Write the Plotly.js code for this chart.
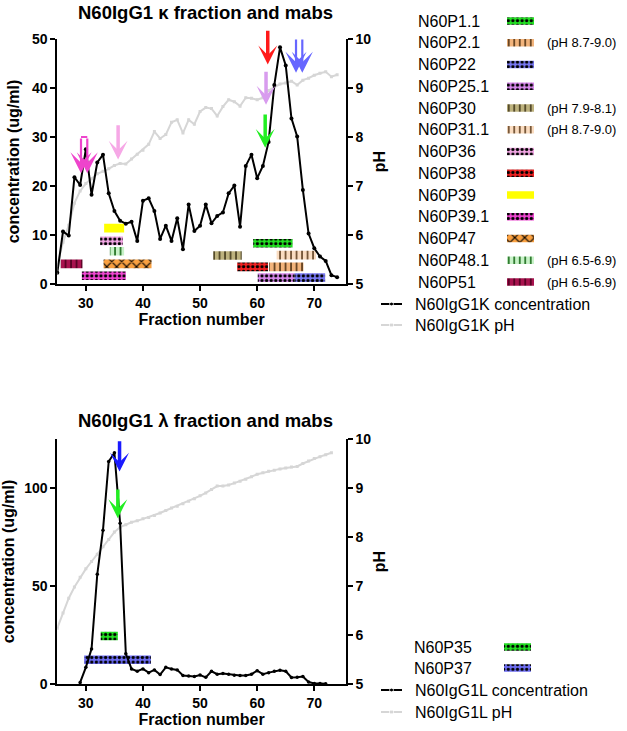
<!DOCTYPE html>
<html>
<head>
<meta charset="utf-8">
<script src="https://cdn.plot.ly/plotly-3.0.1.min.js"></script>
<style>html,body{margin:0;padding:0;background:#fff;}#chart{width:627px;height:731px;}</style>
</head>
<body>
<div id="chart"></div>
<script>
// ---------------- DATA ----------------
// Kappa fractions
const fractionsK = [25,26,27,28,29,30,31,32,33,34,35,36,37,38,39,40,41,42,43,44,45,46,47,48,49,50,51,52,53,54,55,56,57,58,59,60,61,62,63,64,65,66,67,68,69,70,71,72,73,74];
const concK = [2.3,10.7,9.9,21.8,20.2,27.5,18.2,24.8,26.4,18.5,14.9,12.9,12.3,12.7,8.8,17.0,17.5,14.9,9.2,11.9,8.8,13.4,7.1,16.2,10.8,11.9,16.2,12.4,13.9,14.6,18.5,20.1,11.7,24.1,26.4,21.6,24.1,29.0,40.6,48.3,44.6,33.8,30.1,19.2,10.3,7.3,5.6,4.7,1.8,1.4];
const pHK = [5.4,5.85,6.2,6.65,6.9,7.05,7.15,7.25,7.3,7.35,7.42,7.46,7.45,7.55,7.65,7.73,7.85,8.11,7.97,8.05,8.3,8.35,8.08,8.35,8.26,8.52,8.6,8.58,8.43,8.62,8.76,8.72,8.63,8.8,8.79,8.76,8.8,8.95,9.02,9.08,9.1,9.14,9.06,9.16,9.2,9.26,9.3,9.33,9.23,9.27];

// Kappa mabs: fraction ranges and bar levels (concentration units)
const mabsK = ['N60P1.1','N60P2.1','N60P22','N60P25.1','N60P30','N60P31.1','N60P36','N60P38','N60P39','N60P39.1','N60P47','N60P48.1','N60P51'];
const mabsKStart = [59.3,62.1,66.5,60.1,52.3,63.4,32.5,56.5,33.2,29.3,33.1,34.2,25.6];
const mabsKEnd   = [66.2,68.1,71.9,66.5,57.3,70.3,36.5,61.9,36.7,37.0,41.5,36.7,29.4];
const mabsKLevel = [8.3,3.5,1.3,1.3,5.8,5.9,8.8,3.5,11.4,1.7,4.1,6.7,4.1];
const mabsKpH = ['','(pH 8.7-9.0)','','','(pH 7.9-8.1)','(pH 8.7-9.0)','','','','','','(pH 6.5-6.9)','(pH 6.5-6.9)'];

// Kappa arrows (fraction, tail conc, tip conc)
const arrowsKx    = [29.15,30.25,35.65,61.85,61.55,61.4,66.8,67.9];
const arrowsKtop  = [30.0,30.0,32.7,52.0,43.6,34.9,50.2,50.2];
const arrowsKtip  = [22.6,22.6,25.4,44.8,36.6,27.8,43.1,43.1];
const arrowPairsK = [[0,1],[6,7]];   // hollow double arrows

// Lambda fractions
const fractionsL = [29,30,31,32,33,34,35,36,37,38,39,40,41,42,43,44,45,46,47,48,49,50,51,52,53,54,55,56,57,58,59,60,61,62,63,64,65,66,67,68,69,70,71,72];
const concL = [0.8,8.5,17.9,56,78.5,113.5,118,82,15.4,7.7,6.5,7.7,5.8,7.2,4.8,8.5,7.7,7.2,4.3,4.1,3.8,4.6,3.4,6.5,5.0,5.3,5.0,4.5,4.3,4.3,5.0,6.8,5.0,5.8,6.5,7.0,6.5,3.3,3.4,3.8,1.0,0.3,0.3,0.1];
const fractionsLpH = [25,26,27,28,29,30,31,32,33,34,35,36,37,38,39,40,41,42,43,44,45,46,47,48,49,50,51,52,53,54,55,56,57,58,59,60,61,62,63,64,65,66,67,68,69,70,71,72,73];
const pHL = [6.14,6.45,6.75,6.98,7.18,7.35,7.5,7.65,7.8,7.95,8.1,8.2,8.25,8.3,8.33,8.37,8.4,8.44,8.49,8.54,8.59,8.63,8.68,8.73,8.78,8.84,8.9,8.97,9.04,9.04,9.06,9.1,9.14,9.18,9.23,9.28,9.31,9.34,9.36,9.39,9.41,9.43,9.44,9.5,9.55,9.6,9.64,9.68,9.72];

const mabsL = ['N60P35','N60P37'];
const mabsLStart = [32.6,29.7];
const mabsLEnd   = [35.6,41.4];
const mabsLLevel = [24.5,12.4];

const arrowsLx   = [35.9,35.6];
const arrowsLtop = [124.6,100];
const arrowsLtip = [108.4,84.6];

// ---------------- STYLES ----------------
const FONT = 'Liberation Sans, Arial, Helvetica, sans-serif';
const styles = {
  'N60P1.1':  {color:'#22e022', shape:'.', fg:'#000'},
  'N60P2.1':  {color:'#f2b47c', shape:'|', fg:'#5a3a1a'},
  'N60P22':   {color:'#7878f4', shape:'.', fg:'#000'},
  'N60P25.1': {color:'#d888ec', shape:'.', fg:'#000'},
  'N60P30':   {color:'#bdb27e', shape:'|', fg:'#4a4020'},
  'N60P31.1': {color:'#fadcc0', shape:'|', fg:'#6a4a2a'},
  'N60P36':   {color:'#f2a6e4', shape:'.', fg:'#000'},
  'N60P38':   {color:'#f02020', shape:'.', fg:'#000'},
  'N60P39':   {color:'#ffff00', shape:'',  fg:'#000'},
  'N60P39.1': {color:'#f046d2', shape:'.', fg:'#000'},
  'N60P47':   {color:'#f9a040', shape:'x', fg:'#000'},
  'N60P48.1': {color:'#c8f2c8', shape:'|', fg:'#207020'},
  'N60P51':   {color:'#a8124e', shape:'|', fg:'#500020'},
  'N60P35':   {color:'#22e022', shape:'.', fg:'#000'},
  'N60P37':   {color:'#6c6cf2', shape:'.', fg:'#000'}
};
const arrowColorsK = ['#ee44cc','#ee44cc','#f6a8e6','#ff1a1a','#d89cee','#22ee22','#6666ff','#6666ff'];
const arrowWidthsK = [2.2,2.2,3.5,3.5,3.5,3.5,2.2,2.2];
const arrowColorsL = ['#1a1aff','#22ee22'];

function patternFor(name){
  const s = styles[name];
  if(!s.shape) return {shape:''};
  if(s.shape==='.') return {shape:'.', fgcolor:s.fg, bgcolor:s.color, size:4.6, solidity:0.4, fillmode:'replace'};
  if(s.shape==='x') return {shape:'x', fgcolor:s.fg, bgcolor:s.color, size:7, solidity:0.3, fillmode:'replace'};
  return {shape:'|', fgcolor:s.fg, bgcolor:s.color, size:5.5, solidity:0.3, fillmode:'replace'};
}

// pixel helpers for layout geometry
const W = 627, H = 731;
const px = v => v / W;
const py = v => 1 - v / H;

const traces = [];

// ---- Top subplot: bars (conc axis y2) ----
mabsK.forEach((m,i)=>{
  traces.push({type:'bar', orientation:'h', xaxis:'x', yaxis:'y2',
    base:[mabsKStart[i]], x:[mabsKEnd[i]-mabsKStart[i]], y:[mabsKLevel[i]], width:1.75,
    marker:{color:styles[m].color, pattern:patternFor(m), line:{width:0}},
    hoverinfo:'skip', showlegend:false});
});
// pH line (primary y = pH)
traces.push({type:'scatter', mode:'lines+markers', x:fractionsK, y:pHK, xaxis:'x', yaxis:'y',
  line:{color:'#d6d6d6', width:2}, marker:{symbol:'square', size:3, color:'#d6d6d6'}, showlegend:false});
// conc line
traces.push({type:'scatter', mode:'lines+markers', x:fractionsK, y:concK, xaxis:'x', yaxis:'y2',
  line:{color:'#000', width:2}, marker:{size:4, color:'#000'}, showlegend:false});

// ---- Bottom subplot ----
mabsL.forEach((m,i)=>{
  traces.push({type:'bar', orientation:'h', xaxis:'x2', yaxis:'y4',
    base:[mabsLStart[i]], x:[mabsLEnd[i]-mabsLStart[i]], y:[mabsLLevel[i]], width:4.4,
    marker:{color:styles[m].color, pattern:patternFor(m), line:{width:0}},
    hoverinfo:'skip', showlegend:false});
});
traces.push({type:'scatter', mode:'lines+markers', x:fractionsLpH, y:pHL, xaxis:'x2', yaxis:'y3',
  line:{color:'#d6d6d6', width:2}, marker:{symbol:'square', size:3, color:'#d6d6d6'}, showlegend:false});
traces.push({type:'scatter', mode:'lines+markers', x:fractionsL, y:concL, xaxis:'x2', yaxis:'y4',
  line:{color:'#000', width:2}, marker:{size:3.5, color:'#000'}, showlegend:false});

// ---- Legend (manual, on pixel overlay axis x3/y5) ----
const annotations = [];
const shapes = [];
const legTopY0 = 21, legStep = 21.75;
const legNameX = 416, legSwX0 = 507, legSwW = 27, legpHX = 545;
mabsK.forEach((m,i)=>{
  const yy = legTopY0 + i*legStep;
  traces.push({type:'bar', orientation:'h', xaxis:'x3', yaxis:'y5',
    base:[legSwX0], x:[legSwW], y:[yy], width:7.5,
    marker:{color:styles[m].color, pattern:patternFor(m), line:{width:0}}, hoverinfo:'skip', showlegend:false});
  annotations.push({xref:'x3', yref:'y5', x:legNameX, y:yy, text:m, showarrow:false, xanchor:'left', yanchor:'middle',
    font:{family:FONT, size:16, color:'#000'}});
  if(mabsKpH[i]) annotations.push({xref:'x3', yref:'y5', x:legpHX, y:yy, text:mabsKpH[i], showarrow:false, xanchor:'left', yanchor:'middle',
    font:{family:FONT, size:13, color:'#000'}});
});
const lineLegend = [
  {y:304, text:'N60IgG1K concentration', color:'#000', sym:'circle'},
  {y:325, text:'N60IgG1K pH', color:'#d6d6d6', sym:'square'},
  {y:690, text:'N60IgG1L concentration', color:'#000', sym:'circle'},
  {y:712, text:'N60IgG1L pH', color:'#d6d6d6', sym:'square'}
];
lineLegend.forEach(l=>{
  traces.push({type:'scatter', mode:'lines+markers', xaxis:'x3', yaxis:'y5', x:[381,391.5,402], y:[l.y,l.y,l.y],
    line:{color:l.color, width:2}, marker:{size:[0,4,0], color:l.color, symbol:l.sym}, hoverinfo:'skip', showlegend:false});
  annotations.push({xref:'x3', yref:'y5', x:413, y:l.y, text:l.text, showarrow:false, xanchor:'left', yanchor:'middle',
    font:{family:FONT, size:16, color:'#000'}});
});
const legBotY = [647, 668];
mabsL.forEach((m,i)=>{
  traces.push({type:'bar', orientation:'h', xaxis:'x3', yaxis:'y5',
    base:[504], x:[legSwW], y:[legBotY[i]], width:7.5,
    marker:{color:styles[m].color, pattern:patternFor(m), line:{width:0}}, hoverinfo:'skip', showlegend:false});
  annotations.push({xref:'x3', yref:'y5', x:412, y:legBotY[i], text:m, showarrow:false, xanchor:'left', yanchor:'middle',
    font:{family:FONT, size:16, color:'#000'}});
});

// ---- Arrows ----
arrowsKx.forEach((x,i)=>{
  const dbl = arrowWidthsK[i] < 3;
  annotations.push({xref:'x', yref:'y2', axref:'x', ayref:'y2', x:x, y:arrowsKtip[i], ax:x, ay:arrowsKtop[i],
    text:'', showarrow:true, arrowhead:3, arrowsize: dbl ? 1.6 : 0.9, arrowwidth:arrowWidthsK[i], arrowcolor:arrowColorsK[i]});
});
arrowPairsK.forEach(p=>{
  shapes.push({type:'line', xref:'x', yref:'y2', x0:arrowsKx[p[0]], x1:arrowsKx[p[1]], y0:arrowsKtop[p[0]], y1:arrowsKtop[p[1]],
    line:{color:arrowColorsK[p[0]], width:2.2}});
});
arrowsLx.forEach((x,i)=>{
  annotations.push({xref:'x2', yref:'y4', axref:'x2', ayref:'y4', x:x, y:arrowsLtip[i], ax:x, ay:arrowsLtop[i],
    text:'', showarrow:true, arrowhead:3, arrowsize:0.9, arrowwidth:3.5, arrowcolor:arrowColorsL[i]});
});

// ---- Titles ----
annotations.push({xref:'paper', yref:'paper', x:px(205), y:py(13), text:'N60IgG1 κ fraction and mabs', showarrow:false,
  xanchor:'center', yanchor:'middle', font:{family:FONT, size:18.5, color:'#000', weight:'bold'}});
annotations.push({xref:'paper', yref:'paper', x:px(205), y:py(420), text:'N60IgG1 λ fraction and mabs', showarrow:false,
  xanchor:'center', yanchor:'middle', font:{family:FONT, size:18.5, color:'#000', weight:'bold'}});

// ---- Axes ----
const tickFont = {family:FONT, size:14, color:'#000', weight:'bold'};
const titleFont = {family:FONT, size:16, color:'#000', weight:'bold'};
const baseAxis = {showgrid:false, zeroline:false, showline:true, linecolor:'#000', linewidth:2,
  ticks:'outside', ticklen:5, tickwidth:2, tickcolor:'#000', tickfont:tickFont, fixedrange:true};
const xDom = [px(57.3), px(345.7)];
const topDom = [py(284), py(39)];
const botDom = [py(684), py(439)];
const xTicks = [30,40,50,60,70];

const layout = {
  width:W, height:H, margin:{l:0,r:0,t:0,b:0}, paper_bgcolor:'#fff', plot_bgcolor:'rgba(0,0,0,0)',
  showlegend:false, barmode:'overlay', font:{family:FONT},
  xaxis: Object.assign({}, baseAxis, {domain:xDom, range:[25,75.5], anchor:'y', tickvals:xTicks,
    title:{text:'Fraction number', font:titleFont, standoff:4}}),
  yaxis: Object.assign({}, baseAxis, {domain:topDom, range:[5,10], dtick:1, side:'right', anchor:'x',
    title:{text:'pH', font:titleFont, standoff:4}}),
  yaxis2: Object.assign({}, baseAxis, {range:[0,50], dtick:10, side:'left', overlaying:'y', anchor:'x',
    title:{text:'concentration (ug/ml)', font:titleFont, standoff:8}}),
  xaxis2: Object.assign({}, baseAxis, {domain:xDom, range:[25,75.5], anchor:'y3', tickvals:xTicks,
    title:{text:'Fraction number', font:titleFont, standoff:4}}),
  yaxis3: Object.assign({}, baseAxis, {domain:botDom, range:[5,10], dtick:1, side:'right', anchor:'x2',
    title:{text:'pH', font:titleFont, standoff:4}}),
  yaxis4: Object.assign({}, baseAxis, {range:[0,125], tickvals:[0,50,100], side:'left', overlaying:'y3', anchor:'x2',
    title:{text:'concentration (ug/ml)', font:titleFont, standoff:8}}),
  xaxis3: {domain:[0,1], range:[0,W], visible:false, anchor:'y5', fixedrange:true},
  yaxis5: {domain:[0,1], range:[H,0], visible:false, anchor:'x3', fixedrange:true},
  annotations: annotations,
  shapes: shapes
};

Plotly.newPlot('chart', traces, layout, {displayModeBar:false, staticPlot:true});
</script>
</body>
</html>
